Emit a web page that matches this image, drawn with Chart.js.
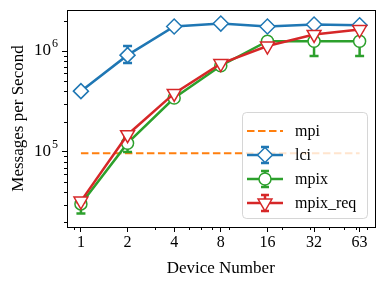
<!DOCTYPE html>
<html>
<head>
<meta charset="utf-8">
<script src="https://cdn.jsdelivr.net/npm/chart.js@4.4.1/dist/chart.umd.min.js"></script>
<style>
  html, body { margin: 0; padding: 0; background: #fff; }
  #wrap { width: 384px; height: 284px; position: relative; }
</style>
</head>
<body>
<div id="wrap"><canvas id="chart"></canvas></div>
<script>
// x axis: device counts (log scale)
const devices = [1, 2, 4, 8, 16, 32, 63];
const xTickLabels = ['1', '2', '4', '8', '16', '32', '63'];
const xMinorTicks = [0.9, 3, 5, 6, 7, 9, 20, 30, 40, 50, 60, 70];

// y axis ticks (log scale), label = base + exponent
const yTicks = [1e5, 1e6];
const yTickBase = ['10', '10'];
const yTickExp = ['5', '6'];
const yMinorTicks = [2e4, 3e4, 4e4, 5e4, 6e4, 7e4, 8e4, 9e4,
                     2e5, 3e5, 4e5, 5e5, 6e5, 7e5, 8e5, 9e5, 2e6];

// series (messages per second)
const mpi = [97000, 97000, 97000, 97000, 97000, 97000, 97000];
const lci = [400000, 910000, 1750000, 1870000, 1750000, 1830000, 1800000];
const lciLow = [395000, 760000, 1730000, 1850000, 1720000, 1800000, 1780000];
const lciHigh = [405000, 1120000, 1770000, 1890000, 1780000, 1860000, 1820000];
const mpix = [30500, 122000, 342000, 715000, 1250000, 1250000, 1250000];
const mpixLow = [24500, 100000, 335000, 700000, 1230000, 890000, 890000];
const mpixHigh = [32000, 130000, 350000, 730000, 1270000, 1300000, 1300000];
const mpixReq = [32500, 148000, 380000, 750000, 1120000, 1460000, 1630000];
const mpixReqLow = [31500, 140000, 372000, 740000, 1100000, 1440000, 1610000];
const mpixReqHigh = [33500, 155000, 388000, 760000, 1140000, 1480000, 1650000];

const BLUE = '#1f77b4', ORANGE = '#ff7f0e', GREEN = '#2ca02c', RED = '#d62728';
const FONT = "'Liberation Serif', 'DejaVu Serif', serif";

function pts(values) {
  return devices.map((d, i) => ({ x: d, y: values[i] }));
}

const errorBars = [
  null,
  { low: lciLow, high: lciHigh, color: BLUE },
  { low: mpixLow, high: mpixHigh, color: GREEN },
  { low: mpixReqLow, high: mpixReqHigh, color: RED }
];

// error bars drawn just before each series, so markers sit on top
const errorBarPlugin = {
  id: 'errorBars',
  beforeDatasetDraw(chart, args) {
    const eb = errorBars[args.index];
    if (!eb) return;
    const xs = chart.scales.x, ys = chart.scales.y, ctx = chart.ctx;
    ctx.save();
    ctx.strokeStyle = eb.color;
    ctx.lineWidth = 2.5;
    devices.forEach((d, i) => {
      const px = xs.getPixelForValue(d);
      const y1 = ys.getPixelForValue(eb.low[i]);
      const y2 = ys.getPixelForValue(eb.high[i]);
      ctx.beginPath();
      ctx.moveTo(px, y1); ctx.lineTo(px, y2);
      ctx.moveTo(px - 4.5, y1); ctx.lineTo(px + 4.5, y1);
      ctx.moveTo(px - 4.5, y2); ctx.lineTo(px + 4.5, y2);
      ctx.stroke();
    });
    ctx.restore();
  }
};

// frame around plot area, minor ticks, exponents of y labels
const framePlugin = {
  id: 'frame',
  afterDatasetsDraw(chart) {
    const a = chart.chartArea, ctx = chart.ctx;
    const xs = chart.scales.x, ys = chart.scales.y;
    ctx.save();
    ctx.strokeStyle = '#000';
    ctx.lineWidth = 1;
    ctx.strokeRect(Math.round(a.left) + 0.5, Math.round(a.top) + 0.5,
                   Math.round(a.right - a.left), Math.round(a.bottom - a.top));
    ctx.beginPath();
    xMinorTicks.forEach(v => {
      const px = Math.round(xs.getPixelForValue(v)) + 0.5;
      ctx.moveTo(px, a.bottom); ctx.lineTo(px, a.bottom + 3);
    });
    yMinorTicks.forEach(v => {
      const py = Math.round(ys.getPixelForValue(v)) + 0.5;
      ctx.moveTo(a.left, py); ctx.lineTo(a.left - 3, py);
    });
    ctx.stroke();
    ctx.fillStyle = '#000';
    ctx.font = '12px ' + FONT;
    ctx.textBaseline = 'middle';
    ctx.textAlign = 'left';
    yTicks.forEach((v, i) => {
      const py = ys.getPixelForValue(v);
      ctx.fillText(yTickExp[i], a.left - 15, py - 7);
    });
    ctx.restore();
  }
};

// matplotlib style legend in the lower right
const legendItems = [
  { label: 'mpi', color: ORANGE, dash: [7.5, 3.5], marker: null },
  { label: 'lci', color: BLUE, dash: [], marker: 'rectRot', radius: 7.5, rot: 0 },
  { label: 'mpix', color: GREEN, dash: [], marker: 'circle', radius: 6, rot: 0 },
  { label: 'mpix_req', color: RED, dash: [], marker: 'triangle', radius: 8, rot: 180 }
];

const legendPlugin = {
  id: 'boxLegend',
  afterDraw(chart) {
    const ctx = chart.ctx;
    const bx = 242, by = 112, bw = 125, bh = 106;
    ctx.save();
    ctx.beginPath();
    ctx.roundRect(bx + 0.5, by + 0.5, bw, bh, 4);
    ctx.fillStyle = 'rgba(255,255,255,0.8)';
    ctx.fill();
    ctx.strokeStyle = 'rgba(204,204,204,0.8)';
    ctx.lineWidth = 1;
    ctx.stroke();
    ctx.font = '16px ' + FONT;
    ctx.textBaseline = 'middle';
    legendItems.forEach((it, i) => {
      const cy = by + 19 + i * 24;
      ctx.strokeStyle = it.color;
      ctx.lineWidth = it.marker ? 2.5 : 2;
      ctx.setLineDash(it.dash);
      ctx.beginPath();
      ctx.moveTo(247, cy); ctx.lineTo(283, cy);
      ctx.stroke();
      ctx.setLineDash([]);
      if (it.marker) {
        ctx.beginPath();
        ctx.moveTo(265, cy - 8); ctx.lineTo(265, cy + 8);
        ctx.moveTo(261, cy - 8); ctx.lineTo(269, cy - 8);
        ctx.moveTo(261, cy + 8); ctx.lineTo(269, cy + 8);
        ctx.stroke();
        ctx.fillStyle = '#fff';
        ctx.lineWidth = 1.5;
        Chart.helpers.drawPoint(ctx, { pointStyle: it.marker, radius: it.radius, rotation: it.rot, borderWidth: 1.5 }, 265, cy);
      }
      ctx.fillStyle = '#000';
      ctx.fillText(it.label, 295, cy + 1);
    });
    ctx.restore();
  }
};

function series(label, values, color, style, radius, rot, order) {
  return {
    label: label,
    data: pts(values),
    borderColor: color,
    backgroundColor: '#fff',
    borderWidth: 2.5,
    pointStyle: style,
    pointRadius: radius,
    pointRotation: rot,
    pointBorderWidth: 1.5,
    pointBackgroundColor: '#fff',
    pointBorderColor: color,
    order: order
  };
}

new Chart(document.getElementById('chart').getContext('2d'), {
  type: 'line',
  data: {
    datasets: [
      {
        label: 'mpi',
        data: pts(mpi),
        borderColor: ORANGE,
        borderWidth: 2,
        borderDash: [7.5, 3.5],
        pointRadius: 0,
        order: 4
      },
      series('lci', lci, BLUE, 'rectRot', 7.5, 0, 3),
      series('mpix', mpix, GREEN, 'circle', 6, 0, 2),
      series('mpix_req', mpixReq, RED, 'triangle', 8, 180, 1)
    ]
  },
  options: {
    responsive: true,
    maintainAspectRatio: false,
    animation: false,
    events: [],
    layout: { padding: { top: 10, right: 9, left: 0, bottom: 0 } },
    plugins: {
      legend: { display: false },
      tooltip: { enabled: false }
    },
    scales: {
      x: {
        type: 'logarithmic',
        min: 0.813,
        max: 78.6,
        afterBuildTicks: scale => { scale.ticks = devices.map(v => ({ value: v })); },
        afterFit: scale => { scale.height = 57; },
        ticks: {
          color: '#000',
          font: { family: FONT, size: 16 },
          padding: 1,
          maxRotation: 0,
          autoSkip: false,
          callback: (v, i) => xTickLabels[i]
        },
        grid: { drawOnChartArea: false, drawTicks: true, tickLength: 5, tickColor: '#000' },
        border: { display: false },
        title: {
          display: true,
          text: 'Device Number',
          color: '#000',
          font: { family: FONT, size: 17 },
          padding: { top: 0, bottom: 5 }
        }
      },
      y: {
        type: 'logarithmic',
        min: 18000,
        max: 2550000,
        afterBuildTicks: scale => { scale.ticks = yTicks.map(v => ({ value: v })); },
        afterFit: scale => {
          scale.width = 67;
          scale.paddingTop = 0;
          scale.paddingBottom = 0;
        },
        ticks: {
          color: '#000',
          font: { family: FONT, size: 17 },
          padding: 11,
          autoSkip: false,
          callback: (v, i) => yTickBase[i]
        },
        grid: { drawOnChartArea: false, drawTicks: true, tickLength: 5, tickColor: '#000' },
        border: { display: false },
        title: {
          display: true,
          text: 'Messages per Second',
          color: '#000',
          font: { family: FONT, size: 17 },
          padding: { top: 8, bottom: 0 }
        }
      }
    }
  },
  plugins: [errorBarPlugin, framePlugin, legendPlugin]
});
</script>
</body>
</html>
